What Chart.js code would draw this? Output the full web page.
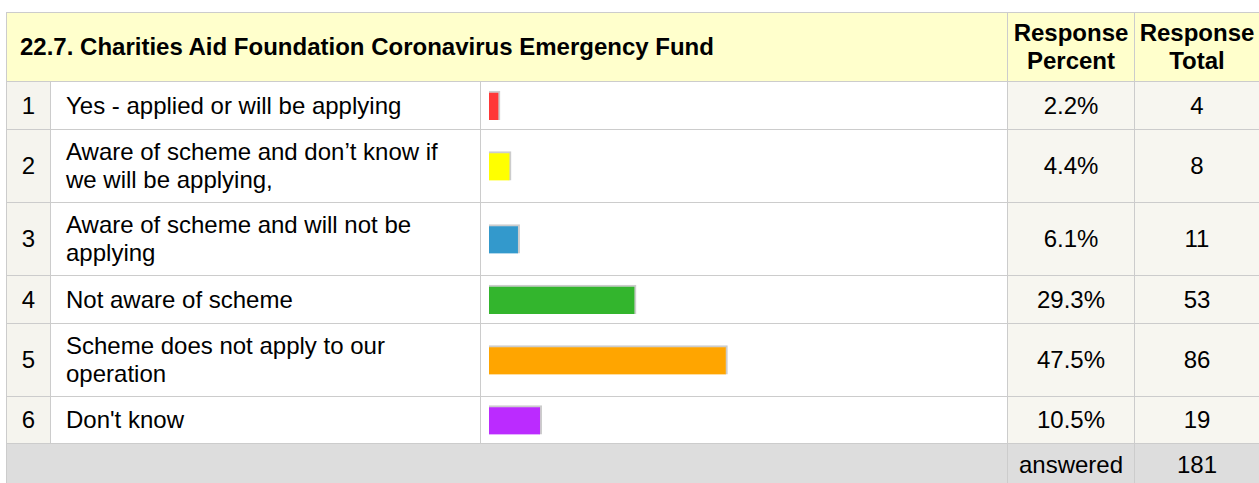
<!DOCTYPE html>
<html>
<head>
<meta charset="utf-8">
<script src="https://cdn.jsdelivr.net/npm/chart.js@4"></script>
<style>
  body { margin: 0; background: #fff; overflow: hidden; width: 1259px; height: 483px; }
  #grid {
    position: absolute; left: 6px; top: 12px;
    padding: 1px 0 0 1px;
    background: #cccccc;
    display: grid;
    grid-template-columns: 43px 429px 526px 126px 124px;
    grid-template-rows: 68px 47px 72px 72px 47px 72px 46px 41px;
    gap: 1px;
    font-family: "Liberation Sans", Arial, sans-serif;
    font-size: 24px;
    color: #000;
  }
  #grid > div { display: flex; align-items: center; }
  .head { background: #ffffcc; font-weight: bold; }
  .title { grid-column: 1 / 4; padding-left: 13px; }
  .center { justify-content: center; text-align: center; }
  .num { background: #f5f4ee; justify-content: center; }
  .label { background: #fff; padding: 0 10px 0 15px; }
  .bar { background: #fff; position: relative; }
  .val { background: #f7f6f0; justify-content: center; }
  .foot { background: #dddddd; }
  .foot.wide { grid-column: 1 / 4; }
  canvas { display: block; }
</style>
</head>
<body>
<div id="grid"></div>
<script>
const title = "22.7. Charities Aid Foundation Coronavirus Emergency Fund";
const headers = ["Response<br>Percent", "Response<br>Total"];
const categories = [
  "Yes - applied or will be applying",
  "Aware of scheme and don\u2019t know if we will be applying,",
  "Aware of scheme and will not be applying",
  "Not aware of scheme",
  "Scheme does not apply to our operation",
  "Don't know"
];
const percents = [2.2, 4.4, 6.1, 29.3, 47.5, 10.5];
const totals = [4, 8, 11, 53, 86, 19];
const answered = 181;
const barColors = ["#ff3737", "#ffff00", "#3399cc", "#33b52d", "#ffa500", "#bb2bff"];

const grid = document.getElementById("grid");

function cell(cls, html) {
  const d = document.createElement("div");
  d.className = cls;
  if (html !== undefined) d.innerHTML = html;
  grid.appendChild(d);
  return d;
}

cell("head title", title);
cell("head center", headers[0]);
cell("head center", headers[1]);

categories.forEach((cat, i) => {
  cell("num", String(i + 1));
  cell("label", cat);
  const barCell = cell("bar");
  cell("val", percents[i].toFixed(1) + "%");
  cell("val", String(totals[i]));

  // one small horizontal bar chart per table row
  const canvas = document.createElement("canvas");
  barCell.appendChild(canvas);
  const box = barCell.getBoundingClientRect();
  canvas.width = Math.round(box.width);
  canvas.height = Math.round(box.height);

  new Chart(canvas, {
    type: "bar",
    data: {
      labels: [cat],
      datasets: [
        {
          data: [percents[i]],
          backgroundColor: barColors[i],
          borderColor: "#cccccc",
          borderWidth: { top: 2, right: 2, bottom: 0, left: 0 },
          borderSkipped: false,
          barThickness: 29,
        },
      ],
    },
    options: {
      indexAxis: "y",
      responsive: false,
      animation: false,
      devicePixelRatio: 1,
      events: [],
      layout: { padding: { left: 8, right: 16, top: 0, bottom: 0 } },
      scales: {
        x: { display: false, min: 0, max: 100 },
        y: { display: false },
      },
      plugins: { legend: { display: false }, tooltip: { enabled: false } },
    },
  });
});

cell("foot wide");
cell("foot center", "answered");
cell("foot center", String(answered));
</script>
</body>
</html>
